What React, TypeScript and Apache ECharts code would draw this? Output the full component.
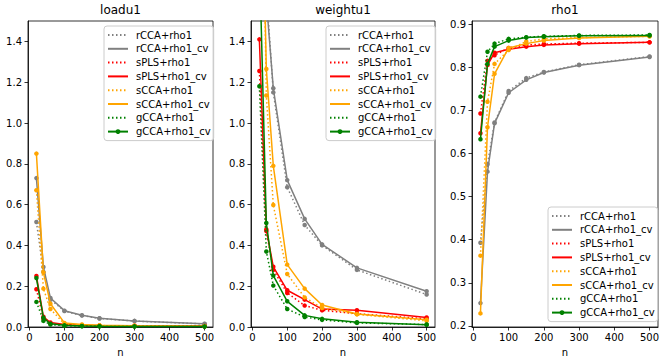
import React, { useEffect, useRef } from "react";
import * as echarts from "echarts";

const nValues = [20, 40, 60, 100, 150, 200, 300, 500];
const seriesNames = [
  "rCCA+rho1",
  "rCCA+rho1_cv",
  "sPLS+rho1",
  "sPLS+rho1_cv",
  "sCCA+rho1",
  "sCCA+rho1_cv",
  "gCCA+rho1",
  "gCCA+rho1_cv",
];
const seriesColors = ["#808080", "#808080", "#ff0000", "#ff0000", "#ffa500", "#ffa500", "#008000", "#008000"];
const seriesDotted = [true, false, true, false, true, false, true, false];
const panelTitles = ["loadu1", "weightu1", "rho1"];
const xTicks = [0, 100, 200, 300, 400, 500];
const yTicksLoad = [0, 0.2, 0.4, 0.6, 0.8, 1.0, 1.2, 1.4];
const yTicksRho = [0.2, 0.3, 0.4, 0.5, 0.6, 0.7, 0.8, 0.9];

// loadu1
const loadRCCA = [0.515, 0.27, 0.135, 0.078, 0.056, 0.042, 0.029, 0.015];
const loadRCCAcv = [0.73, 0.294, 0.142, 0.08, 0.058, 0.043, 0.03, 0.016];
const loadSPLS = [0.185, 0.04, 0.018, 0.01, 0.007, 0.006, 0.005, 0.004];
const loadSPLScv = [0.25, 0.05, 0.022, 0.012, 0.009, 0.007, 0.006, 0.005];
const loadSCCA = [0.67, 0.188, 0.088, 0.015, 0.01, 0.007, 0.005, 0.003];
const loadSCCAcv = [0.85, 0.268, 0.114, 0.02, 0.012, 0.008, 0.006, 0.004];
const loadGCCA = [0.123, 0.03, 0.012, 0.006, 0.004, 0.003, 0.002, 0.002];
const loadGCCAcv = [0.24, 0.045, 0.016, 0.008, 0.005, 0.004, 0.003, 0.002];

// weightu1
const weightRCCA = [2.4, 1.65, 1.15, 0.685, 0.5, 0.4, 0.28, 0.159];
const weightRCCAcv = [2.3, 1.6, 1.17, 0.72, 0.53, 0.405, 0.29, 0.175];
const weightSPLS = [1.255, 0.47, 0.28, 0.167, 0.105, 0.082, 0.065, 0.04];
const weightSPLScv = [1.41, 0.478, 0.295, 0.18, 0.134, 0.088, 0.082, 0.047];
const weightSCCA = [3.2, 1.135, 0.598, 0.26, 0.145, 0.093, 0.062, 0.03];
const weightSCCAcv = [2.8, 1.265, 0.79, 0.306, 0.188, 0.108, 0.064, 0.036];
const weightGCCA = [1.18, 0.37, 0.203, 0.088, 0.049, 0.035, 0.02, 0.012];
const weightGCCAcv = [1.83, 0.51, 0.252, 0.126, 0.057, 0.04, 0.023, 0.011];

// rho1
const rhoRCCA = [0.393, 0.575, 0.672, 0.745, 0.775, 0.789, 0.806, 0.825];
const rhoRCCAcv = [0.253, 0.558, 0.67, 0.741, 0.771, 0.788, 0.805, 0.824];
const rhoSPLS = [0.693, 0.815, 0.828, 0.845, 0.852, 0.854, 0.856, 0.858];
const rhoSPLScv = [0.647, 0.805, 0.834, 0.842, 0.848, 0.852, 0.855, 0.858];
const rhoSCCA = [0.363, 0.72, 0.808, 0.84, 0.86, 0.866, 0.869, 0.872];
const rhoSCCAcv = [0.229, 0.661, 0.785, 0.845, 0.855, 0.862, 0.868, 0.872];
const rhoGCCA = [0.732, 0.836, 0.855, 0.866, 0.87, 0.872, 0.874, 0.875];
const rhoGCCAcv = [0.633, 0.808, 0.848, 0.862, 0.869, 0.871, 0.873, 0.874];

const panelData = [
  [loadRCCA, loadRCCAcv, loadSPLS, loadSPLScv, loadSCCA, loadSCCAcv, loadGCCA, loadGCCAcv],
  [weightRCCA, weightRCCAcv, weightSPLS, weightSPLScv, weightSCCA, weightSCCAcv, weightGCCA, weightGCCAcv],
  [rhoRCCA, rhoRCCAcv, rhoSPLS, rhoSPLScv, rhoSCCA, rhoSCCAcv, rhoGCCA, rhoGCCAcv],
];

const FONT = "DejaVu Sans";

export default function App() {
  const ref = useRef<HTMLDivElement>(null);
  useEffect(() => {
    if (!ref.current) return;
    const chart = echarts.init(ref.current, null, { renderer: "svg" });

    const grids = [
      { left: 28, top: 21, width: 185, height: 306 },
      { left: 251, top: 21, width: 184, height: 306 },
      { left: 472, top: 21, width: 186, height: 306 },
    ];
    const yRanges = [
      { min: 0, max: 1.5, ticks: yTicksLoad },
      { min: 0, max: 1.5, ticks: yTicksLoad },
      { min: 0.1975, max: 0.9075, ticks: yTicksRho },
    ];
    const legendPos = [
      { left: 104, top: 26 },
      { left: 326, top: 26 },
      { left: 548, top: 207 },
    ];

    const series: any[] = [];
    panelData.forEach((arrs, gi) => {
      arrs.forEach((ys, si) => {
        series.push({
          type: "line",
          name: seriesNames[si],
          xAxisIndex: gi,
          yAxisIndex: gi,
          data: nValues.map((x, i) => [x, ys[i]]),
          symbol: "circle",
          symbolSize: 4.5,
          showSymbol: true,
          clip: true,
          z: 2 + si,
          lineStyle: {
            color: seriesColors[si],
            width: 1.5,
            type: seriesDotted[si] ? [1.5, 2.5] : "solid",
          },
          itemStyle: { color: seriesColors[si] },
          emphasis: { disabled: true },
        });
      });
    });

    const option: any = {
      animation: false,
      backgroundColor: "#ffffff",
      title: panelTitles.map((t, i) => ({
        text: t,
        left: grids[i].left + grids[i].width / 2,
        top: 4,
        textAlign: "center",
        padding: 0,
        textStyle: { fontFamily: FONT, fontSize: 12, fontWeight: "normal", color: "#000" },
      })),
      grid: grids.map((g) => ({
        ...g,
        show: true,
        borderColor: "#000",
        borderWidth: 0.8,
        backgroundColor: "transparent",
        containLabel: false,
      })),
      xAxis: grids.map((_, i) => ({
        type: "value",
        gridIndex: i,
        min: -4,
        max: 524,
        name: "n",
        nameLocation: "middle",
        nameGap: 20,
        nameTextStyle: { fontFamily: FONT, fontSize: 10, color: "#000" },
        splitLine: { show: false },
        axisLine: { show: true, onZero: false, lineStyle: { color: "#000", width: 0.8 } },
        axisTick: { show: true, length: 3.5, customValues: xTicks, lineStyle: { color: "#000", width: 0.8 } },
        axisLabel: {
          customValues: xTicks,
          margin: 5,
          fontFamily: FONT,
          fontSize: 10,
          color: "#000",
        },
      })),
      yAxis: grids.map((_, i) => ({
        type: "value",
        gridIndex: i,
        min: yRanges[i].min,
        max: yRanges[i].max,
        splitLine: { show: false },
        axisLine: { show: true, onZero: false, lineStyle: { color: "#000", width: 0.8 } },
        axisTick: { show: true, length: 3.5, customValues: yRanges[i].ticks, lineStyle: { color: "#000", width: 0.8 } },
        axisLabel: {
          customValues: yRanges[i].ticks,
          margin: 6,
          fontFamily: FONT,
          fontSize: 10,
          color: "#000",
          formatter: (v: number) => v.toFixed(1),
        },
      })),
      legend: legendPos.map((p) => ({
        left: p.left,
        top: p.top,
        orient: "vertical",
        itemWidth: 20,
        itemHeight: 6,
        itemGap: 1.8,
        padding: [3, 3, 3, 3],
        backgroundColor: "rgba(255,255,255,0.8)",
        borderColor: "#cccccc",
        borderWidth: 1,
        borderRadius: 3,
        selectedMode: false,
        textStyle: { fontFamily: FONT, fontSize: 10, color: "#000", lineHeight: 12, padding: [0, 0, 0, 3] },
        data: seriesNames.map((nm, si) => ({
          name: nm,
          itemStyle: si === seriesNames.length - 1 ? undefined : { opacity: 0 },
        })),
      })),
      series,
    };
    chart.setOption(option);
    return () => chart.dispose();
  }, []);
  return (
    <div
      ref={ref}
      style={{ position: "fixed", left: 0, top: 0, width: 665, height: 363, background: "#fff" }}
    />
  );
}
